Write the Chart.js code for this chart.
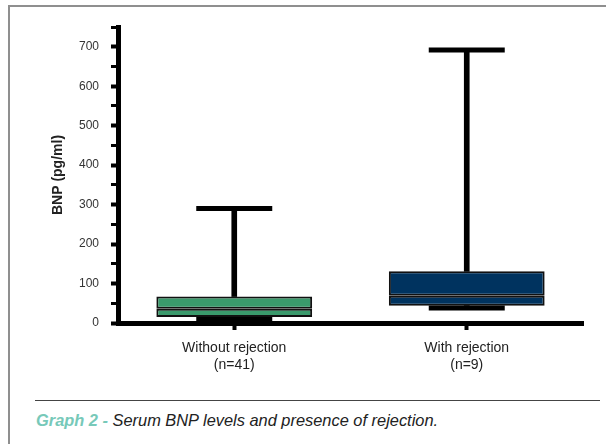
<!DOCTYPE html>
<html>
<head>
<meta charset="utf-8">
<script src="https://cdn.jsdelivr.net/npm/chart.js@4/dist/chart.umd.min.js"></script>
<style>
  body { margin: 0; width: 606px; height: 444px; background: #fff; overflow: hidden; position: relative; font-family: "Liberation Sans", Arial, sans-serif; }
  #frame { position: absolute; left: 8px; top: 5px; width: 600px; height: 450px; border-left: 2px solid #8f8f8f; border-top: 2px solid #8f8f8f; }
  #wrap { position: absolute; left: 0; top: 0; width: 606px; height: 385px; }
  #rule { position: absolute; left: 35px; top: 400px; width: 565px; height: 1px; background: #444; }
  #caption { position: absolute; left: 36px; top: 411px; font-size: 16.4px; font-style: italic; color: #222; white-space: nowrap; }
  #caption span { color: #77c9b9; font-weight: bold; }
</style>
</head>
<body>
<div id="frame"></div>
<div id="wrap"><canvas id="boxChart"></canvas></div>
<div id="rule"></div>
<div id="caption"><span>Graph 2 - </span>Serum BNP levels and presence of rejection.</div>
<script>
// values (pg/ml)
const categories = [["Without rejection", "(n=41)"], ["With rejection", "(n=9)"]];
const minValues = [9, 38];
const q1Values = [15, 44];
const medianValues = [36, 69];
const q3Values = [67, 131];
const maxValues = [290, 692];
const boxColors = ["#3a9a6c", "#00335f"];
const yMax = 750;
const yLabelStep = 100;

// floating bars for box halves and whiskers
function pairs(a, b) {
    return a.map((v, i) => [v, b[i]]);
}

const labelFont = "'Liberation Sans', Arial, sans-serif";

let ctx = document.getElementById("boxChart").getContext("2d");
let boxChart = new Chart(ctx, {
    type: "bar",
    data: {
        labels: categories,
        datasets: [
            {
                type: "line",
                label: "max",
                data: maxValues,
                showLine: false,
                pointStyle: "line",
                pointRadius: 38,
                pointBorderWidth: 5,
                pointBorderColor: "#000",
                order: 0
            },
            {
                type: "line",
                label: "min",
                data: minValues,
                showLine: false,
                pointStyle: "line",
                pointRadius: 38,
                pointBorderWidth: 5,
                pointBorderColor: "#000",
                order: 0
            },
            {
                label: "upper box",
                data: pairs(medianValues, q3Values),
                backgroundColor: boxColors,
                borderColor: "#111",
                borderWidth: 2,
                borderSkipped: false,
                grouped: false,
                categoryPercentage: 1,
                barPercentage: 0.67,
                order: 1
            },
            {
                label: "lower box",
                data: pairs(q1Values, medianValues),
                backgroundColor: boxColors,
                borderColor: "#111",
                borderWidth: 2,
                borderSkipped: false,
                grouped: false,
                categoryPercentage: 1,
                barPercentage: 0.67,
                order: 1
            },
            {
                label: "upper whisker",
                data: pairs(q3Values, maxValues),
                backgroundColor: "#000",
                barThickness: 5,
                grouped: false,
                order: 2
            },
            {
                label: "lower whisker",
                data: pairs(minValues, q1Values),
                backgroundColor: "#000",
                barThickness: 5,
                grouped: false,
                order: 2
            }
        ]
    },
    options: {
        responsive: true,
        maintainAspectRatio: false,
        animation: false,
        layout: {
            autoPadding: false,
            padding: { left: 40, right: 23, top: 27, bottom: 10 }
        },
        plugins: {
            legend: { display: false },
            tooltip: { enabled: false }
        },
        scales: {
            x: {
                offset: true,
                afterFit: (s) => { s.height = 52; },
                border: { display: true, color: "#000", width: 5 },
                grid: {
                    offset: false,
                    drawOnChartArea: false,
                    tickLength: 7,
                    tickWidth: 4,
                    tickColor: "#000"
                },
                ticks: {
                    color: "#222",
                    padding: 10,
                    font: { family: labelFont, size: 14 }
                }
            },
            y: {
                min: 0,
                max: yMax,
                afterFit: (s) => { s.width = 78; },
                border: { display: true, color: "#000", width: 5 },
                grid: {
                    drawOnChartArea: false,
                    tickLength: 7,
                    tickColor: "#000",
                    tickWidth: (c) => (c.tick && c.tick.value % yLabelStep === 0 ? 4 : 3)
                },
                ticks: {
                    stepSize: 50,
                    color: "#333",
                    padding: 12,
                    font: { family: labelFont, size: 12 },
                    callback: (v) => (v % yLabelStep === 0 && v < yMax ? v : "")
                },
                title: {
                    display: true,
                    text: "BNP (pg/ml)",
                    color: "#222",
                    padding: { top: 10, bottom: 0 },
                    font: { family: labelFont, size: 14, weight: "bold" }
                }
            }
        }
    }
});
</script>
</body>
</html>
